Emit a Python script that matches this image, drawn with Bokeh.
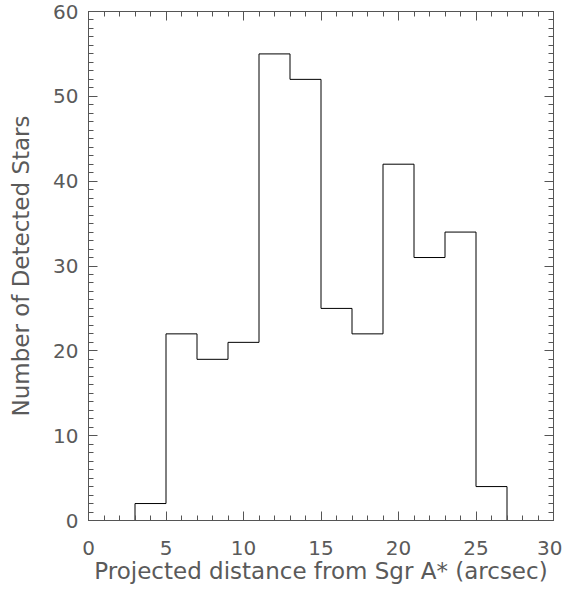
from bokeh.plotting import figure
from bokeh.models import LinearAxis, SingleIntervalTicker, Range1d
from bokeh.embed import file_html
from bokeh.resources import INLINE

# Histogram data (bin edges in arcsec, counts per bin)
bin_edges = [1, 3, 5, 7, 9, 11, 13, 15, 17, 19, 21, 23, 25, 27, 29]
counts = [0, 2, 22, 19, 21, 55, 52, 25, 22, 42, 31, 34, 4, 0]

x_label = "Projected distance from Sgr A* (arcsec)"
y_label = "Number of Detected Stars"

FONT = "DejaVu Sans"
TXT = "#5a5a5a"
AX = "#555555"

p = figure(width=562, height=592, output_backend="svg", toolbar_location=None,
           x_range=Range1d(0, 30), y_range=Range1d(0, 60),
           min_border_left=88, min_border_right=9, min_border_top=11, min_border_bottom=72,
           x_axis_type=None, y_axis_type=None)
p.grid.visible = False
p.outline_line_color = AX
p.outline_line_width = 1
p.background_fill_color = "white"
p.border_fill_color = "white"

ys = counts + [0]
p.step(x=bin_edges, y=ys, mode="after", line_color="black", line_width=1)

def style(ax, labels=True):
    ax.axis_line_color = AX
    ax.major_tick_line_color = AX
    ax.minor_tick_line_color = AX
    ax.major_tick_in = 9
    ax.major_tick_out = 0
    ax.minor_tick_in = 5
    ax.minor_tick_out = 0
    if labels:
        ax.major_label_text_font = FONT
        ax.major_label_text_font_size = "20px"
        ax.major_label_text_color = TXT
        ax.axis_label_text_font = FONT
        ax.axis_label_text_font_size = "23px"
        ax.axis_label_text_font_style = "normal"
        ax.axis_label_text_color = TXT
    else:
        ax.major_label_text_font_size = "1px"
        ax.major_label_text_color = None
        ax.major_label_standoff = 0
        ax.axis_label = None

xt = SingleIntervalTicker(interval=5, num_minor_ticks=5)
yt = SingleIntervalTicker(interval=10, num_minor_ticks=10)

xb = LinearAxis(ticker=xt, axis_label=x_label)
style(xb)
xb.major_label_standoff = 20
xb.axis_label_standoff = 0
p.add_layout(xb, "below")

yl = LinearAxis(ticker=yt, axis_label=y_label)
style(yl)
yl.major_label_standoff = 10
yl.axis_label_standoff = 16
p.add_layout(yl, "left")

xa = LinearAxis(ticker=xt)
style(xa, labels=False)
p.add_layout(xa, "above")

yr = LinearAxis(ticker=yt)
style(yr, labels=False)
p.add_layout(yr, "right")

open("out.html", "w").write(file_html(p, INLINE))
